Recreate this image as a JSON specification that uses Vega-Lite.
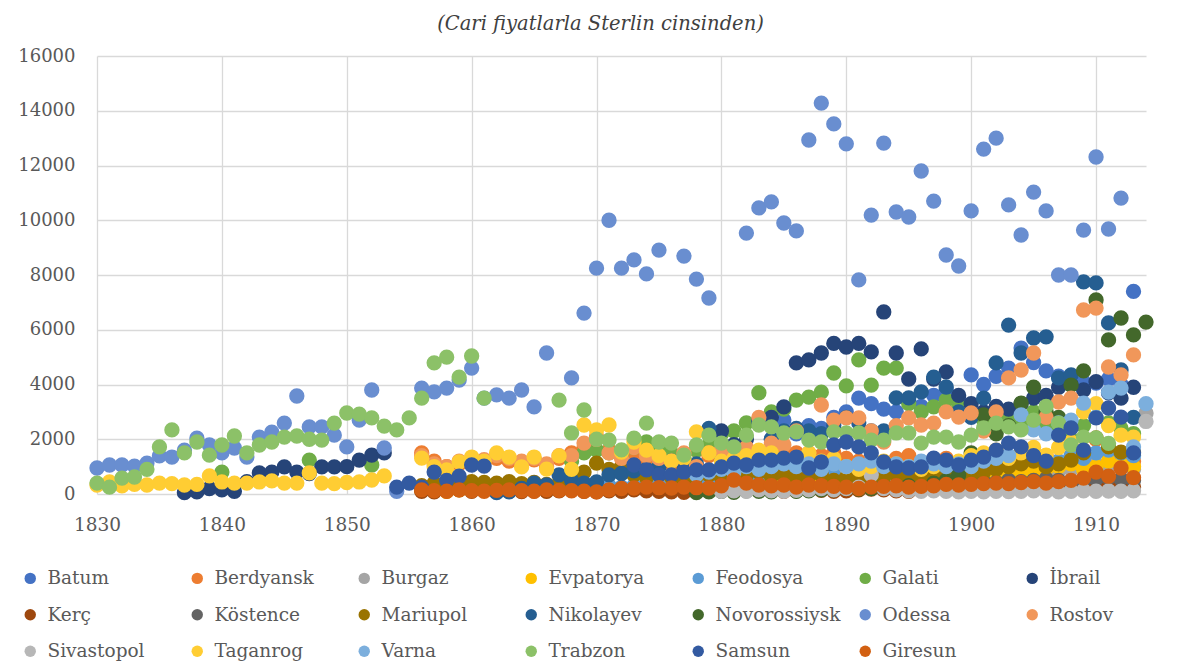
{
"$schema": "https://vega.github.io/schema/vega-lite/v6.json",
"width": 1049, "height": 438,
"autosize": {"type": "none"},
"padding": {"left": 97, "top": 56, "right": 39, "bottom": 174},
"background": "white",
"title": {"text": "(Cari fiyatlarla Sterlin cinsinden)", "font": "DejaVu Serif", "fontStyle": "italic", "fontWeight": "normal", "fontSize": 19.5, "color": "#404040", "anchor": "middle", "dx": -21, "offset": 13},
"datasets": {
"main": [
{"port":"Batum","year":1880,"value":600},{"port":"Batum","year":1881,"value":800},{"port":"Batum","year":1882,"value":1100},{"port":"Batum","year":1883,"value":1500},{"port":"Batum","year":1884,"value":2000},{"port":"Batum","year":1885,"value":2700},{"port":"Batum","year":1886,"value":2200},{"port":"Batum","year":1887,"value":2500},{"port":"Batum","year":1888,"value":2400},{"port":"Batum","year":1889,"value":2800},{"port":"Batum","year":1890,"value":3000},{"port":"Batum","year":1891,"value":3500},{"port":"Batum","year":1892,"value":3300},{"port":"Batum","year":1893,"value":3100},{"port":"Batum","year":1894,"value":3000},{"port":"Batum","year":1895,"value":3400},{"port":"Batum","year":1896,"value":3200},{"port":"Batum","year":1897,"value":3600},{"port":"Batum","year":1898,"value":3800},{"port":"Batum","year":1899,"value":3500},{"port":"Batum","year":1900,"value":4350},{"port":"Batum","year":1901,"value":4000},{"port":"Batum","year":1902,"value":4300},{"port":"Batum","year":1903,"value":4600},{"port":"Batum","year":1904,"value":5330},{"port":"Batum","year":1905,"value":4800},{"port":"Batum","year":1906,"value":4500},{"port":"Batum","year":1907,"value":4300},{"port":"Batum","year":1908,"value":4100},{"port":"Batum","year":1909,"value":4090},{"port":"Batum","year":1910,"value":4050},{"port":"Batum","year":1911,"value":4200},{"port":"Batum","year":1912,"value":4000},{"port":"Batum","year":1913,"value":7400},
{"port":"Berdyansk","year":1856,"value":1500},{"port":"Berdyansk","year":1857,"value":1200},{"port":"Berdyansk","year":1858,"value":1000},{"port":"Berdyansk","year":1859,"value":1100},{"port":"Berdyansk","year":1860,"value":1250},{"port":"Berdyansk","year":1861,"value":1150},{"port":"Berdyansk","year":1862,"value":1300},{"port":"Berdyansk","year":1863,"value":1200},{"port":"Berdyansk","year":1864,"value":1100},{"port":"Berdyansk","year":1865,"value":1250},{"port":"Berdyansk","year":1866,"value":1000},{"port":"Berdyansk","year":1867,"value":1300},{"port":"Berdyansk","year":1868,"value":1500},{"port":"Berdyansk","year":1869,"value":1700},{"port":"Berdyansk","year":1870,"value":2100},{"port":"Berdyansk","year":1871,"value":1600},{"port":"Berdyansk","year":1872,"value":1400},{"port":"Berdyansk","year":1873,"value":1500},{"port":"Berdyansk","year":1874,"value":1300},{"port":"Berdyansk","year":1875,"value":1500},{"port":"Berdyansk","year":1876,"value":1100},{"port":"Berdyansk","year":1877,"value":1200},{"port":"Berdyansk","year":1878,"value":1600},{"port":"Berdyansk","year":1879,"value":1400},{"port":"Berdyansk","year":1880,"value":1500},{"port":"Berdyansk","year":1881,"value":1700},{"port":"Berdyansk","year":1882,"value":1500},{"port":"Berdyansk","year":1883,"value":1300},{"port":"Berdyansk","year":1884,"value":1400},{"port":"Berdyansk","year":1885,"value":1600},{"port":"Berdyansk","year":1886,"value":1500},{"port":"Berdyansk","year":1887,"value":1200},{"port":"Berdyansk","year":1888,"value":1400},{"port":"Berdyansk","year":1889,"value":1500},{"port":"Berdyansk","year":1890,"value":1300},{"port":"Berdyansk","year":1891,"value":1200},{"port":"Berdyansk","year":1892,"value":1100},{"port":"Berdyansk","year":1893,"value":1000},{"port":"Berdyansk","year":1894,"value":1300},{"port":"Berdyansk","year":1895,"value":1400},{"port":"Berdyansk","year":1896,"value":1100},{"port":"Berdyansk","year":1897,"value":1200},{"port":"Berdyansk","year":1898,"value":1300},{"port":"Berdyansk","year":1899,"value":1100},{"port":"Berdyansk","year":1900,"value":1000},{"port":"Berdyansk","year":1901,"value":900},{"port":"Berdyansk","year":1902,"value":1100},{"port":"Berdyansk","year":1903,"value":1200},{"port":"Berdyansk","year":1904,"value":1300},{"port":"Berdyansk","year":1905,"value":1500},{"port":"Berdyansk","year":1906,"value":1400},{"port":"Berdyansk","year":1907,"value":1200},{"port":"Berdyansk","year":1908,"value":1300},{"port":"Berdyansk","year":1909,"value":1600},{"port":"Berdyansk","year":1910,"value":2000},{"port":"Berdyansk","year":1911,"value":1500},{"port":"Berdyansk","year":1912,"value":1300},{"port":"Berdyansk","year":1913,"value":1200},
{"port":"Burgaz","year":1880,"value":300},{"port":"Burgaz","year":1881,"value":350},{"port":"Burgaz","year":1882,"value":400},{"port":"Burgaz","year":1883,"value":450},{"port":"Burgaz","year":1884,"value":500},{"port":"Burgaz","year":1885,"value":400},{"port":"Burgaz","year":1886,"value":600},{"port":"Burgaz","year":1887,"value":500},{"port":"Burgaz","year":1888,"value":500},{"port":"Burgaz","year":1889,"value":600},{"port":"Burgaz","year":1890,"value":700},{"port":"Burgaz","year":1891,"value":650},{"port":"Burgaz","year":1892,"value":800},{"port":"Burgaz","year":1893,"value":700},{"port":"Burgaz","year":1894,"value":600},{"port":"Burgaz","year":1895,"value":650},{"port":"Burgaz","year":1896,"value":700},{"port":"Burgaz","year":1897,"value":750},{"port":"Burgaz","year":1898,"value":900},{"port":"Burgaz","year":1899,"value":800},{"port":"Burgaz","year":1900,"value":800},{"port":"Burgaz","year":1901,"value":850},{"port":"Burgaz","year":1902,"value":900},{"port":"Burgaz","year":1903,"value":950},{"port":"Burgaz","year":1904,"value":1000},{"port":"Burgaz","year":1905,"value":900},{"port":"Burgaz","year":1906,"value":800},{"port":"Burgaz","year":1907,"value":850},{"port":"Burgaz","year":1908,"value":900},{"port":"Burgaz","year":1909,"value":1000},{"port":"Burgaz","year":1910,"value":1100},{"port":"Burgaz","year":1911,"value":1000},{"port":"Burgaz","year":1912,"value":1000},{"port":"Burgaz","year":1913,"value":900},{"port":"Burgaz","year":1914,"value":2950},
{"port":"Evpatorya","year":1856,"value":150},{"port":"Evpatorya","year":1857,"value":120},{"port":"Evpatorya","year":1858,"value":100},{"port":"Evpatorya","year":1859,"value":150},{"port":"Evpatorya","year":1860,"value":200},{"port":"Evpatorya","year":1861,"value":180},{"port":"Evpatorya","year":1862,"value":150},{"port":"Evpatorya","year":1863,"value":200},{"port":"Evpatorya","year":1864,"value":150},{"port":"Evpatorya","year":1865,"value":180},{"port":"Evpatorya","year":1866,"value":120},{"port":"Evpatorya","year":1867,"value":150},{"port":"Evpatorya","year":1868,"value":200},{"port":"Evpatorya","year":1869,"value":250},{"port":"Evpatorya","year":1870,"value":300},{"port":"Evpatorya","year":1871,"value":250},{"port":"Evpatorya","year":1872,"value":200},{"port":"Evpatorya","year":1873,"value":250},{"port":"Evpatorya","year":1874,"value":300},{"port":"Evpatorya","year":1875,"value":250},{"port":"Evpatorya","year":1876,"value":200},{"port":"Evpatorya","year":1877,"value":150},{"port":"Evpatorya","year":1878,"value":250},{"port":"Evpatorya","year":1879,"value":300},{"port":"Evpatorya","year":1880,"value":300},{"port":"Evpatorya","year":1881,"value":350},{"port":"Evpatorya","year":1882,"value":400},{"port":"Evpatorya","year":1883,"value":300},{"port":"Evpatorya","year":1884,"value":350},{"port":"Evpatorya","year":1885,"value":300},{"port":"Evpatorya","year":1886,"value":250},{"port":"Evpatorya","year":1887,"value":300},{"port":"Evpatorya","year":1888,"value":350},{"port":"Evpatorya","year":1889,"value":300},{"port":"Evpatorya","year":1890,"value":350},{"port":"Evpatorya","year":1891,"value":300},{"port":"Evpatorya","year":1892,"value":400},{"port":"Evpatorya","year":1893,"value":350},{"port":"Evpatorya","year":1894,"value":300},{"port":"Evpatorya","year":1895,"value":350},{"port":"Evpatorya","year":1896,"value":400},{"port":"Evpatorya","year":1897,"value":450},{"port":"Evpatorya","year":1898,"value":500},{"port":"Evpatorya","year":1899,"value":450},{"port":"Evpatorya","year":1900,"value":500},{"port":"Evpatorya","year":1901,"value":600},{"port":"Evpatorya","year":1902,"value":700},{"port":"Evpatorya","year":1903,"value":650},{"port":"Evpatorya","year":1904,"value":700},{"port":"Evpatorya","year":1905,"value":800},{"port":"Evpatorya","year":1906,"value":900},{"port":"Evpatorya","year":1907,"value":1000},{"port":"Evpatorya","year":1908,"value":1100},{"port":"Evpatorya","year":1909,"value":900},{"port":"Evpatorya","year":1910,"value":1000},{"port":"Evpatorya","year":1911,"value":1200},{"port":"Evpatorya","year":1912,"value":1100},{"port":"Evpatorya","year":1913,"value":1000},
{"port":"Feodosya","year":1868,"value":180},{"port":"Feodosya","year":1869,"value":200},{"port":"Feodosya","year":1870,"value":250},{"port":"Feodosya","year":1871,"value":300},{"port":"Feodosya","year":1872,"value":250},{"port":"Feodosya","year":1873,"value":300},{"port":"Feodosya","year":1874,"value":350},{"port":"Feodosya","year":1875,"value":300},{"port":"Feodosya","year":1876,"value":250},{"port":"Feodosya","year":1877,"value":300},{"port":"Feodosya","year":1878,"value":400},{"port":"Feodosya","year":1879,"value":450},{"port":"Feodosya","year":1880,"value":600},{"port":"Feodosya","year":1881,"value":700},{"port":"Feodosya","year":1882,"value":800},{"port":"Feodosya","year":1883,"value":700},{"port":"Feodosya","year":1884,"value":800},{"port":"Feodosya","year":1885,"value":900},{"port":"Feodosya","year":1886,"value":800},{"port":"Feodosya","year":1887,"value":900},{"port":"Feodosya","year":1888,"value":1000},{"port":"Feodosya","year":1889,"value":900},{"port":"Feodosya","year":1890,"value":1000},{"port":"Feodosya","year":1891,"value":900},{"port":"Feodosya","year":1892,"value":1000},{"port":"Feodosya","year":1893,"value":1100},{"port":"Feodosya","year":1894,"value":1000},{"port":"Feodosya","year":1895,"value":900},{"port":"Feodosya","year":1896,"value":1000},{"port":"Feodosya","year":1897,"value":1100},{"port":"Feodosya","year":1898,"value":1200},{"port":"Feodosya","year":1899,"value":1000},{"port":"Feodosya","year":1900,"value":1100},{"port":"Feodosya","year":1901,"value":1000},{"port":"Feodosya","year":1902,"value":1200},{"port":"Feodosya","year":1903,"value":1300},{"port":"Feodosya","year":1904,"value":1200},{"port":"Feodosya","year":1905,"value":1400},{"port":"Feodosya","year":1906,"value":1300},{"port":"Feodosya","year":1907,"value":1200},{"port":"Feodosya","year":1908,"value":1400},{"port":"Feodosya","year":1909,"value":1300},{"port":"Feodosya","year":1910,"value":1500},{"port":"Feodosya","year":1911,"value":1600},{"port":"Feodosya","year":1912,"value":1500},{"port":"Feodosya","year":1913,"value":1400},
{"port":"Galati","year":1840,"value":800},{"port":"Galati","year":1847,"value":1240},{"port":"Galati","year":1852,"value":1060},
{"port":"Galati","year":1868,"value":1200},{"port":"Galati","year":1869,"value":1500},{"port":"Galati","year":1870,"value":1600},{"port":"Galati","year":1871,"value":1500},{"port":"Galati","year":1872,"value":1400},{"port":"Galati","year":1873,"value":1700},{"port":"Galati","year":1874,"value":1900},{"port":"Galati","year":1875,"value":1600},{"port":"Galati","year":1876,"value":1500},{"port":"Galati","year":1877,"value":1300},{"port":"Galati","year":1878,"value":1600},{"port":"Galati","year":1879,"value":1800},{"port":"Galati","year":1880,"value":2200},{"port":"Galati","year":1881,"value":2300},{"port":"Galati","year":1882,"value":2600},{"port":"Galati","year":1883,"value":3700},{"port":"Galati","year":1884,"value":3000},{"port":"Galati","year":1885,"value":3100},{"port":"Galati","year":1886,"value":3430},{"port":"Galati","year":1887,"value":3540},{"port":"Galati","year":1888,"value":3720},{"port":"Galati","year":1889,"value":4420},{"port":"Galati","year":1890,"value":3950},{"port":"Galati","year":1891,"value":4900},{"port":"Galati","year":1892,"value":3980},{"port":"Galati","year":1893,"value":4600},{"port":"Galati","year":1894,"value":4600},{"port":"Galati","year":1895,"value":3300},{"port":"Galati","year":1896,"value":3000},{"port":"Galati","year":1897,"value":3180},{"port":"Galati","year":1898,"value":3430},{"port":"Galati","year":1899,"value":3200},{"port":"Galati","year":1900,"value":2900},{"port":"Galati","year":1901,"value":2700},{"port":"Galati","year":1902,"value":3000},{"port":"Galati","year":1903,"value":2800},{"port":"Galati","year":1904,"value":2600},{"port":"Galati","year":1905,"value":3000},{"port":"Galati","year":1906,"value":2500},{"port":"Galati","year":1907,"value":2300},{"port":"Galati","year":1908,"value":2000},{"port":"Galati","year":1909,"value":2500},{"port":"Galati","year":1910,"value":2800},{"port":"Galati","year":1911,"value":2600},{"port":"Galati","year":1912,"value":2400},{"port":"Galati","year":1913,"value":2200},
{"port":"İbrail","year":1837,"value":50},{"port":"İbrail","year":1838,"value":80},{"port":"İbrail","year":1839,"value":200},{"port":"İbrail","year":1840,"value":150},{"port":"İbrail","year":1841,"value":100},{"port":"İbrail","year":1842,"value":450},{"port":"İbrail","year":1843,"value":770},{"port":"İbrail","year":1844,"value":800},{"port":"İbrail","year":1845,"value":990},{"port":"İbrail","year":1846,"value":800},{"port":"İbrail","year":1847,"value":750},{"port":"İbrail","year":1848,"value":990},{"port":"İbrail","year":1849,"value":990},{"port":"İbrail","year":1850,"value":1000},{"port":"İbrail","year":1851,"value":1240},{"port":"İbrail","year":1852,"value":1420},{"port":"İbrail","year":1853,"value":1500},
{"port":"İbrail","year":1880,"value":2300},{"port":"İbrail","year":1881,"value":1800},{"port":"İbrail","year":1882,"value":2000},{"port":"İbrail","year":1883,"value":2600},{"port":"İbrail","year":1884,"value":2800},{"port":"İbrail","year":1885,"value":3180},{"port":"İbrail","year":1886,"value":4790},{"port":"İbrail","year":1887,"value":4900},{"port":"İbrail","year":1888,"value":5150},{"port":"İbrail","year":1889,"value":5500},{"port":"İbrail","year":1890,"value":5370},{"port":"İbrail","year":1891,"value":5500},{"port":"İbrail","year":1892,"value":5190},{"port":"İbrail","year":1893,"value":6650},{"port":"İbrail","year":1894,"value":5150},{"port":"İbrail","year":1895,"value":4200},{"port":"İbrail","year":1896,"value":5300},{"port":"İbrail","year":1897,"value":4200},{"port":"İbrail","year":1898,"value":4460},{"port":"İbrail","year":1899,"value":3600},{"port":"İbrail","year":1900,"value":3300},{"port":"İbrail","year":1901,"value":3000},{"port":"İbrail","year":1902,"value":3200},{"port":"İbrail","year":1903,"value":3100},{"port":"İbrail","year":1904,"value":3300},{"port":"İbrail","year":1905,"value":3500},{"port":"İbrail","year":1906,"value":3600},{"port":"İbrail","year":1907,"value":3900},{"port":"İbrail","year":1908,"value":4000},{"port":"İbrail","year":1909,"value":3800},{"port":"İbrail","year":1910,"value":4100},{"port":"İbrail","year":1911,"value":3700},{"port":"İbrail","year":1912,"value":3500},{"port":"İbrail","year":1913,"value":3900},
{"port":"Kerç","year":1856,"value":100},{"port":"Kerç","year":1857,"value":80},{"port":"Kerç","year":1858,"value":120},{"port":"Kerç","year":1859,"value":150},{"port":"Kerç","year":1860,"value":100},{"port":"Kerç","year":1861,"value":130},{"port":"Kerç","year":1862,"value":120},{"port":"Kerç","year":1863,"value":100},{"port":"Kerç","year":1864,"value":90},{"port":"Kerç","year":1865,"value":110},{"port":"Kerç","year":1866,"value":100},{"port":"Kerç","year":1867,"value":120},{"port":"Kerç","year":1868,"value":150},{"port":"Kerç","year":1869,"value":100},{"port":"Kerç","year":1870,"value":80},{"port":"Kerç","year":1871,"value":120},{"port":"Kerç","year":1872,"value":100},{"port":"Kerç","year":1873,"value":150},{"port":"Kerç","year":1874,"value":120},{"port":"Kerç","year":1875,"value":100},{"port":"Kerç","year":1876,"value":80},{"port":"Kerç","year":1877,"value":60},{"port":"Kerç","year":1878,"value":100},{"port":"Kerç","year":1879,"value":120},{"port":"Kerç","year":1880,"value":150},{"port":"Kerç","year":1881,"value":180},{"port":"Kerç","year":1882,"value":200},{"port":"Kerç","year":1883,"value":150},{"port":"Kerç","year":1884,"value":120},{"port":"Kerç","year":1885,"value":100},{"port":"Kerç","year":1886,"value":120},{"port":"Kerç","year":1887,"value":150},{"port":"Kerç","year":1888,"value":130},{"port":"Kerç","year":1889,"value":100},{"port":"Kerç","year":1890,"value":120},{"port":"Kerç","year":1891,"value":150},{"port":"Kerç","year":1892,"value":180},{"port":"Kerç","year":1893,"value":150},{"port":"Kerç","year":1894,"value":120},{"port":"Kerç","year":1895,"value":100},{"port":"Kerç","year":1896,"value":150},{"port":"Kerç","year":1897,"value":200},{"port":"Kerç","year":1898,"value":180},{"port":"Kerç","year":1899,"value":150},{"port":"Kerç","year":1900,"value":200},{"port":"Kerç","year":1901,"value":250},{"port":"Kerç","year":1902,"value":220},{"port":"Kerç","year":1903,"value":200},{"port":"Kerç","year":1904,"value":250},{"port":"Kerç","year":1905,"value":300},{"port":"Kerç","year":1906,"value":250},{"port":"Kerç","year":1907,"value":200},{"port":"Kerç","year":1908,"value":250},{"port":"Kerç","year":1909,"value":300},{"port":"Kerç","year":1910,"value":350},{"port":"Kerç","year":1911,"value":300},{"port":"Kerç","year":1912,"value":280},{"port":"Kerç","year":1913,"value":250},
{"port":"Köstence","year":1878,"value":100},{"port":"Köstence","year":1879,"value":120},{"port":"Köstence","year":1880,"value":150},{"port":"Köstence","year":1881,"value":130},{"port":"Köstence","year":1882,"value":200},{"port":"Köstence","year":1883,"value":180},{"port":"Köstence","year":1884,"value":200},{"port":"Köstence","year":1885,"value":250},{"port":"Köstence","year":1886,"value":220},{"port":"Köstence","year":1887,"value":200},{"port":"Köstence","year":1888,"value":250},{"port":"Köstence","year":1889,"value":300},{"port":"Köstence","year":1890,"value":280},{"port":"Köstence","year":1891,"value":250},{"port":"Köstence","year":1892,"value":300},{"port":"Köstence","year":1893,"value":320},{"port":"Köstence","year":1894,"value":300},{"port":"Köstence","year":1895,"value":350},{"port":"Köstence","year":1896,"value":300},{"port":"Köstence","year":1897,"value":350},{"port":"Köstence","year":1898,"value":400},{"port":"Köstence","year":1899,"value":380},{"port":"Köstence","year":1900,"value":400},{"port":"Köstence","year":1901,"value":450},{"port":"Köstence","year":1902,"value":420},{"port":"Köstence","year":1903,"value":500},{"port":"Köstence","year":1904,"value":450},{"port":"Köstence","year":1905,"value":500},{"port":"Köstence","year":1906,"value":550},{"port":"Köstence","year":1907,"value":500},{"port":"Köstence","year":1908,"value":450},{"port":"Köstence","year":1909,"value":500},{"port":"Köstence","year":1910,"value":550},{"port":"Köstence","year":1911,"value":600},{"port":"Köstence","year":1912,"value":550},{"port":"Köstence","year":1913,"value":500},
{"port":"Mariupol","year":1856,"value":300},{"port":"Mariupol","year":1857,"value":400},{"port":"Mariupol","year":1858,"value":350},{"port":"Mariupol","year":1859,"value":400},{"port":"Mariupol","year":1860,"value":450},{"port":"Mariupol","year":1861,"value":420},{"port":"Mariupol","year":1862,"value":400},{"port":"Mariupol","year":1863,"value":450},{"port":"Mariupol","year":1864,"value":380},{"port":"Mariupol","year":1865,"value":420},{"port":"Mariupol","year":1866,"value":350},{"port":"Mariupol","year":1867,"value":400},{"port":"Mariupol","year":1868,"value":600},{"port":"Mariupol","year":1869,"value":800},{"port":"Mariupol","year":1870,"value":1130},{"port":"Mariupol","year":1871,"value":900},{"port":"Mariupol","year":1872,"value":1000},{"port":"Mariupol","year":1873,"value":700},{"port":"Mariupol","year":1874,"value":600},{"port":"Mariupol","year":1875,"value":700},{"port":"Mariupol","year":1876,"value":600},{"port":"Mariupol","year":1877,"value":500},{"port":"Mariupol","year":1878,"value":650},{"port":"Mariupol","year":1879,"value":700},{"port":"Mariupol","year":1880,"value":600},{"port":"Mariupol","year":1881,"value":550},{"port":"Mariupol","year":1882,"value":700},{"port":"Mariupol","year":1883,"value":800},{"port":"Mariupol","year":1884,"value":650},{"port":"Mariupol","year":1885,"value":700},{"port":"Mariupol","year":1886,"value":600},{"port":"Mariupol","year":1887,"value":650},{"port":"Mariupol","year":1888,"value":700},{"port":"Mariupol","year":1889,"value":500},{"port":"Mariupol","year":1890,"value":600},{"port":"Mariupol","year":1891,"value":550},{"port":"Mariupol","year":1892,"value":600},{"port":"Mariupol","year":1893,"value":650},{"port":"Mariupol","year":1894,"value":700},{"port":"Mariupol","year":1895,"value":600},{"port":"Mariupol","year":1896,"value":650},{"port":"Mariupol","year":1897,"value":700},{"port":"Mariupol","year":1898,"value":800},{"port":"Mariupol","year":1899,"value":750},{"port":"Mariupol","year":1900,"value":700},{"port":"Mariupol","year":1901,"value":800},{"port":"Mariupol","year":1902,"value":900},{"port":"Mariupol","year":1903,"value":1000},{"port":"Mariupol","year":1904,"value":1100},{"port":"Mariupol","year":1905,"value":1200},{"port":"Mariupol","year":1906,"value":1000},{"port":"Mariupol","year":1907,"value":1100},{"port":"Mariupol","year":1908,"value":1240},{"port":"Mariupol","year":1909,"value":1500},{"port":"Mariupol","year":1910,"value":2050},{"port":"Mariupol","year":1911,"value":1720},{"port":"Mariupol","year":1912,"value":1530},{"port":"Mariupol","year":1913,"value":1530},
{"port":"Nikolayev","year":1862,"value":50},{"port":"Nikolayev","year":1863,"value":80},{"port":"Nikolayev","year":1864,"value":200},{"port":"Nikolayev","year":1865,"value":400},{"port":"Nikolayev","year":1866,"value":330},{"port":"Nikolayev","year":1867,"value":700},{"port":"Nikolayev","year":1868,"value":500},{"port":"Nikolayev","year":1869,"value":400},{"port":"Nikolayev","year":1870,"value":440},{"port":"Nikolayev","year":1871,"value":700},{"port":"Nikolayev","year":1872,"value":750},{"port":"Nikolayev","year":1873,"value":850},{"port":"Nikolayev","year":1874,"value":900},{"port":"Nikolayev","year":1875,"value":1000},{"port":"Nikolayev","year":1876,"value":1200},{"port":"Nikolayev","year":1877,"value":900},{"port":"Nikolayev","year":1878,"value":1100},{"port":"Nikolayev","year":1879,"value":2400},{"port":"Nikolayev","year":1880,"value":1400},{"port":"Nikolayev","year":1881,"value":1300},{"port":"Nikolayev","year":1882,"value":1600},{"port":"Nikolayev","year":1883,"value":2700},{"port":"Nikolayev","year":1884,"value":2000},{"port":"Nikolayev","year":1885,"value":2300},{"port":"Nikolayev","year":1886,"value":2400},{"port":"Nikolayev","year":1887,"value":2300},{"port":"Nikolayev","year":1888,"value":2200},{"port":"Nikolayev","year":1889,"value":2500},{"port":"Nikolayev","year":1890,"value":2800},{"port":"Nikolayev","year":1891,"value":2600},{"port":"Nikolayev","year":1892,"value":2300},{"port":"Nikolayev","year":1893,"value":2300},{"port":"Nikolayev","year":1894,"value":3510},{"port":"Nikolayev","year":1895,"value":3510},{"port":"Nikolayev","year":1896,"value":3730},{"port":"Nikolayev","year":1897,"value":4270},{"port":"Nikolayev","year":1898,"value":3910},{"port":"Nikolayev","year":1899,"value":3000},{"port":"Nikolayev","year":1900,"value":2800},{"port":"Nikolayev","year":1901,"value":3500},{"port":"Nikolayev","year":1902,"value":4790},{"port":"Nikolayev","year":1903,"value":6170},{"port":"Nikolayev","year":1904,"value":5150},{"port":"Nikolayev","year":1905,"value":5700},{"port":"Nikolayev","year":1906,"value":5740},{"port":"Nikolayev","year":1907,"value":4240},{"port":"Nikolayev","year":1908,"value":4350},{"port":"Nikolayev","year":1909,"value":7750},{"port":"Nikolayev","year":1910,"value":7710},{"port":"Nikolayev","year":1911,"value":6250},{"port":"Nikolayev","year":1912,"value":4530},{"port":"Nikolayev","year":1913,"value":2800},
{"port":"Novorossiysk","year":1878,"value":50},{"port":"Novorossiysk","year":1879,"value":80},{"port":"Novorossiysk","year":1880,"value":100},{"port":"Novorossiysk","year":1881,"value":60},{"port":"Novorossiysk","year":1882,"value":120},{"port":"Novorossiysk","year":1883,"value":100},{"port":"Novorossiysk","year":1884,"value":80},{"port":"Novorossiysk","year":1885,"value":150},{"port":"Novorossiysk","year":1886,"value":100},{"port":"Novorossiysk","year":1887,"value":120},{"port":"Novorossiysk","year":1888,"value":150},{"port":"Novorossiysk","year":1889,"value":150},{"port":"Novorossiysk","year":1890,"value":200},{"port":"Novorossiysk","year":1891,"value":180},{"port":"Novorossiysk","year":1892,"value":200},{"port":"Novorossiysk","year":1893,"value":250},{"port":"Novorossiysk","year":1894,"value":200},{"port":"Novorossiysk","year":1895,"value":300},{"port":"Novorossiysk","year":1896,"value":250},{"port":"Novorossiysk","year":1897,"value":400},{"port":"Novorossiysk","year":1898,"value":500},{"port":"Novorossiysk","year":1899,"value":700},{"port":"Novorossiysk","year":1900,"value":1500},{"port":"Novorossiysk","year":1901,"value":2890},{"port":"Novorossiysk","year":1902,"value":2200},{"port":"Novorossiysk","year":1903,"value":2500},{"port":"Novorossiysk","year":1904,"value":3320},{"port":"Novorossiysk","year":1905,"value":3900},{"port":"Novorossiysk","year":1906,"value":3000},{"port":"Novorossiysk","year":1907,"value":2800},{"port":"Novorossiysk","year":1908,"value":3980},{"port":"Novorossiysk","year":1909,"value":4500},{"port":"Novorossiysk","year":1910,"value":7090},{"port":"Novorossiysk","year":1911,"value":5630},{"port":"Novorossiysk","year":1912,"value":6430},{"port":"Novorossiysk","year":1913,"value":5810},{"port":"Novorossiysk","year":1914,"value":6280},
{"port":"Odessa","year":1830,"value":950},{"port":"Odessa","year":1831,"value":1060},{"port":"Odessa","year":1832,"value":1060},{"port":"Odessa","year":1833,"value":1020},{"port":"Odessa","year":1834,"value":1130},{"port":"Odessa","year":1835,"value":1390},{"port":"Odessa","year":1836,"value":1350},{"port":"Odessa","year":1837,"value":1600},{"port":"Odessa","year":1838,"value":2040},{"port":"Odessa","year":1839,"value":1790},{"port":"Odessa","year":1840,"value":1500},{"port":"Odessa","year":1841,"value":1680},{"port":"Odessa","year":1842,"value":1350},{"port":"Odessa","year":1843,"value":2080},{"port":"Odessa","year":1844,"value":2260},{"port":"Odessa","year":1845,"value":2590},{"port":"Odessa","year":1846,"value":3580},{"port":"Odessa","year":1847,"value":2450},{"port":"Odessa","year":1848,"value":2450},{"port":"Odessa","year":1849,"value":2150},{"port":"Odessa","year":1850,"value":1720},{"port":"Odessa","year":1851,"value":2700},{"port":"Odessa","year":1852,"value":3800},{"port":"Odessa","year":1853,"value":1680},{"port":"Odessa","year":1854,"value":100},{"port":"Odessa","year":1856,"value":3870},{"port":"Odessa","year":1857,"value":3730},{"port":"Odessa","year":1858,"value":3870},{"port":"Odessa","year":1859,"value":4160},{"port":"Odessa","year":1860,"value":4600},{"port":"Odessa","year":1861,"value":3500},{"port":"Odessa","year":1862,"value":3620},{"port":"Odessa","year":1863,"value":3500},{"port":"Odessa","year":1864,"value":3800},{"port":"Odessa","year":1865,"value":3180},{"port":"Odessa","year":1866,"value":5150},{"port":"Odessa","year":1868,"value":4240},{"port":"Odessa","year":1869,"value":6610},{"port":"Odessa","year":1870,"value":8250},{"port":"Odessa","year":1871,"value":10000},{"port":"Odessa","year":1872,"value":8250},{"port":"Odessa","year":1873,"value":8550},{"port":"Odessa","year":1874,"value":8040},{"port":"Odessa","year":1875,"value":8910},{"port":"Odessa","year":1877,"value":8690},{"port":"Odessa","year":1878,"value":7850},{"port":"Odessa","year":1879,"value":7160},{"port":"Odessa","year":1882,"value":9530},{"port":"Odessa","year":1883,"value":10450},{"port":"Odessa","year":1884,"value":10670},{"port":"Odessa","year":1885,"value":9900},{"port":"Odessa","year":1886,"value":9610},{"port":"Odessa","year":1887,"value":12930},{"port":"Odessa","year":1888,"value":14280},{"port":"Odessa","year":1889,"value":13520},{"port":"Odessa","year":1890,"value":12790},{"port":"Odessa","year":1891,"value":7820},{"port":"Odessa","year":1892,"value":10190},{"port":"Odessa","year":1893,"value":12820},{"port":"Odessa","year":1894,"value":10300},{"port":"Odessa","year":1895,"value":10120},{"port":"Odessa","year":1896,"value":11800},{"port":"Odessa","year":1897,"value":10700},{"port":"Odessa","year":1898,"value":8730},{"port":"Odessa","year":1899,"value":8330},{"port":"Odessa","year":1900,"value":10340},{"port":"Odessa","year":1901,"value":12600},{"port":"Odessa","year":1902,"value":13000},{"port":"Odessa","year":1903,"value":10560},{"port":"Odessa","year":1904,"value":9460},{"port":"Odessa","year":1905,"value":11030},{"port":"Odessa","year":1906,"value":10340},{"port":"Odessa","year":1907,"value":8000},{"port":"Odessa","year":1908,"value":8000},{"port":"Odessa","year":1909,"value":9640},{"port":"Odessa","year":1910,"value":12310},{"port":"Odessa","year":1911,"value":9680},{"port":"Odessa","year":1912,"value":10810},
{"port":"Rostov","year":1856,"value":1400},{"port":"Rostov","year":1857,"value":1100},{"port":"Rostov","year":1858,"value":1000},{"port":"Rostov","year":1859,"value":1200},{"port":"Rostov","year":1860,"value":1300},{"port":"Rostov","year":1861,"value":1250},{"port":"Rostov","year":1862,"value":1400},{"port":"Rostov","year":1863,"value":1300},{"port":"Rostov","year":1864,"value":1200},{"port":"Rostov","year":1865,"value":1300},{"port":"Rostov","year":1866,"value":1100},{"port":"Rostov","year":1867,"value":1400},{"port":"Rostov","year":1868,"value":1400},{"port":"Rostov","year":1869,"value":1860},{"port":"Rostov","year":1870,"value":2000},{"port":"Rostov","year":1871,"value":1500},{"port":"Rostov","year":1872,"value":1300},{"port":"Rostov","year":1873,"value":1700},{"port":"Rostov","year":1874,"value":1400},{"port":"Rostov","year":1875,"value":1300},{"port":"Rostov","year":1876,"value":1200},{"port":"Rostov","year":1877,"value":1500},{"port":"Rostov","year":1878,"value":1000},{"port":"Rostov","year":1879,"value":1500},{"port":"Rostov","year":1880,"value":1600},{"port":"Rostov","year":1881,"value":1400},{"port":"Rostov","year":1882,"value":1700},{"port":"Rostov","year":1883,"value":2800},{"port":"Rostov","year":1884,"value":1860},{"port":"Rostov","year":1885,"value":1790},{"port":"Rostov","year":1886,"value":2300},{"port":"Rostov","year":1887,"value":1500},{"port":"Rostov","year":1888,"value":3250},{"port":"Rostov","year":1889,"value":2700},{"port":"Rostov","year":1890,"value":2780},{"port":"Rostov","year":1891,"value":2780},{"port":"Rostov","year":1892,"value":2300},{"port":"Rostov","year":1893,"value":1900},{"port":"Rostov","year":1894,"value":2500},{"port":"Rostov","year":1895,"value":2780},{"port":"Rostov","year":1896,"value":2520},{"port":"Rostov","year":1897,"value":2590},{"port":"Rostov","year":1898,"value":3000},{"port":"Rostov","year":1899,"value":2810},{"port":"Rostov","year":1900,"value":2960},{"port":"Rostov","year":1901,"value":2300},{"port":"Rostov","year":1902,"value":3000},{"port":"Rostov","year":1903,"value":4240},{"port":"Rostov","year":1904,"value":4530},{"port":"Rostov","year":1905,"value":5150},{"port":"Rostov","year":1906,"value":2800},{"port":"Rostov","year":1907,"value":3360},{"port":"Rostov","year":1908,"value":3500},{"port":"Rostov","year":1909,"value":6720},{"port":"Rostov","year":1910,"value":6790},{"port":"Rostov","year":1911,"value":4640},{"port":"Rostov","year":1912,"value":4350},{"port":"Rostov","year":1913,"value":5080},
{"port":"Sivastopol","year":1880,"value":100},{"port":"Sivastopol","year":1881,"value":120},{"port":"Sivastopol","year":1882,"value":100},{"port":"Sivastopol","year":1883,"value":150},{"port":"Sivastopol","year":1884,"value":120},{"port":"Sivastopol","year":1885,"value":100},{"port":"Sivastopol","year":1886,"value":130},{"port":"Sivastopol","year":1887,"value":150},{"port":"Sivastopol","year":1888,"value":200},{"port":"Sivastopol","year":1889,"value":150},{"port":"Sivastopol","year":1890,"value":200},{"port":"Sivastopol","year":1891,"value":250},{"port":"Sivastopol","year":1892,"value":700},{"port":"Sivastopol","year":1893,"value":200},{"port":"Sivastopol","year":1894,"value":150},{"port":"Sivastopol","year":1895,"value":120},{"port":"Sivastopol","year":1896,"value":100},{"port":"Sivastopol","year":1897,"value":120},{"port":"Sivastopol","year":1898,"value":100},{"port":"Sivastopol","year":1899,"value":80},{"port":"Sivastopol","year":1900,"value":100},{"port":"Sivastopol","year":1901,"value":80},{"port":"Sivastopol","year":1902,"value":100},{"port":"Sivastopol","year":1903,"value":90},{"port":"Sivastopol","year":1904,"value":100},{"port":"Sivastopol","year":1905,"value":120},{"port":"Sivastopol","year":1906,"value":100},{"port":"Sivastopol","year":1907,"value":80},{"port":"Sivastopol","year":1908,"value":100},{"port":"Sivastopol","year":1909,"value":120},{"port":"Sivastopol","year":1910,"value":100},{"port":"Sivastopol","year":1911,"value":110},{"port":"Sivastopol","year":1912,"value":100},{"port":"Sivastopol","year":1913,"value":120},{"port":"Sivastopol","year":1914,"value":2650},
{"port":"Taganrog","year":1830,"value":330},{"port":"Taganrog","year":1831,"value":440},{"port":"Taganrog","year":1832,"value":300},{"port":"Taganrog","year":1833,"value":350},{"port":"Taganrog","year":1834,"value":330},{"port":"Taganrog","year":1835,"value":400},{"port":"Taganrog","year":1836,"value":380},{"port":"Taganrog","year":1837,"value":330},{"port":"Taganrog","year":1838,"value":350},{"port":"Taganrog","year":1839,"value":660},{"port":"Taganrog","year":1840,"value":440},{"port":"Taganrog","year":1841,"value":400},{"port":"Taganrog","year":1842,"value":400},{"port":"Taganrog","year":1843,"value":440},{"port":"Taganrog","year":1844,"value":480},{"port":"Taganrog","year":1845,"value":400},{"port":"Taganrog","year":1846,"value":400},{"port":"Taganrog","year":1847,"value":770},{"port":"Taganrog","year":1848,"value":400},{"port":"Taganrog","year":1849,"value":380},{"port":"Taganrog","year":1850,"value":420},{"port":"Taganrog","year":1851,"value":440},{"port":"Taganrog","year":1852,"value":510},{"port":"Taganrog","year":1853,"value":660},
{"port":"Taganrog","year":1856,"value":1310},{"port":"Taganrog","year":1857,"value":1000},{"port":"Taganrog","year":1858,"value":880},{"port":"Taganrog","year":1859,"value":1170},{"port":"Taganrog","year":1860,"value":1350},{"port":"Taganrog","year":1861,"value":1200},{"port":"Taganrog","year":1862,"value":1500},{"port":"Taganrog","year":1863,"value":1350},{"port":"Taganrog","year":1864,"value":990},{"port":"Taganrog","year":1865,"value":1350},{"port":"Taganrog","year":1866,"value":910},{"port":"Taganrog","year":1867,"value":1390},{"port":"Taganrog","year":1868,"value":900},{"port":"Taganrog","year":1869,"value":2520},{"port":"Taganrog","year":1870,"value":2340},{"port":"Taganrog","year":1871,"value":2520},{"port":"Taganrog","year":1872,"value":1530},{"port":"Taganrog","year":1873,"value":1900},{"port":"Taganrog","year":1874,"value":1600},{"port":"Taganrog","year":1875,"value":1400},{"port":"Taganrog","year":1876,"value":1200},{"port":"Taganrog","year":1877,"value":1300},{"port":"Taganrog","year":1878,"value":2270},{"port":"Taganrog","year":1879,"value":1500},{"port":"Taganrog","year":1880,"value":1200},{"port":"Taganrog","year":1881,"value":1300},{"port":"Taganrog","year":1882,"value":1400},{"port":"Taganrog","year":1883,"value":1600},{"port":"Taganrog","year":1884,"value":1500},{"port":"Taganrog","year":1885,"value":1300},{"port":"Taganrog","year":1886,"value":1200},{"port":"Taganrog","year":1887,"value":1500},{"port":"Taganrog","year":1888,"value":1200},{"port":"Taganrog","year":1889,"value":1300},{"port":"Taganrog","year":1890,"value":1000},{"port":"Taganrog","year":1891,"value":900},{"port":"Taganrog","year":1892,"value":1000},{"port":"Taganrog","year":1893,"value":1200},{"port":"Taganrog","year":1894,"value":1100},{"port":"Taganrog","year":1895,"value":1000},{"port":"Taganrog","year":1896,"value":900},{"port":"Taganrog","year":1897,"value":1000},{"port":"Taganrog","year":1898,"value":1100},{"port":"Taganrog","year":1899,"value":1200},{"port":"Taganrog","year":1900,"value":1400},{"port":"Taganrog","year":1901,"value":1500},{"port":"Taganrog","year":1902,"value":1600},{"port":"Taganrog","year":1903,"value":1300},{"port":"Taganrog","year":1904,"value":1500},{"port":"Taganrog","year":1905,"value":1700},{"port":"Taganrog","year":1906,"value":1420},{"port":"Taganrog","year":1907,"value":1700},{"port":"Taganrog","year":1908,"value":1900},{"port":"Taganrog","year":1909,"value":3000},{"port":"Taganrog","year":1910,"value":3300},{"port":"Taganrog","year":1911,"value":2500},{"port":"Taganrog","year":1912,"value":2150},{"port":"Taganrog","year":1913,"value":2080},
{"port":"Varna","year":1878,"value":700},{"port":"Varna","year":1879,"value":800},{"port":"Varna","year":1880,"value":900},{"port":"Varna","year":1881,"value":800},{"port":"Varna","year":1882,"value":1000},{"port":"Varna","year":1883,"value":900},{"port":"Varna","year":1884,"value":1000},{"port":"Varna","year":1885,"value":1100},{"port":"Varna","year":1886,"value":1000},{"port":"Varna","year":1887,"value":1100},{"port":"Varna","year":1888,"value":900},{"port":"Varna","year":1889,"value":1100},{"port":"Varna","year":1890,"value":1000},{"port":"Varna","year":1891,"value":1100},{"port":"Varna","year":1892,"value":1200},{"port":"Varna","year":1893,"value":1000},{"port":"Varna","year":1894,"value":1100},{"port":"Varna","year":1895,"value":1000},{"port":"Varna","year":1896,"value":1200},{"port":"Varna","year":1897,"value":1100},{"port":"Varna","year":1898,"value":1000},{"port":"Varna","year":1899,"value":1100},{"port":"Varna","year":1900,"value":1000},{"port":"Varna","year":1901,"value":1200},{"port":"Varna","year":1902,"value":1300},{"port":"Varna","year":1903,"value":1400},{"port":"Varna","year":1904,"value":2890},{"port":"Varna","year":1905,"value":2340},{"port":"Varna","year":1906,"value":2200},{"port":"Varna","year":1907,"value":2600},{"port":"Varna","year":1908,"value":2700},{"port":"Varna","year":1909,"value":3320},{"port":"Varna","year":1910,"value":2800},{"port":"Varna","year":1911,"value":3720},{"port":"Varna","year":1912,"value":3870},{"port":"Varna","year":1913,"value":1720},{"port":"Varna","year":1914,"value":3300},
{"port":"Trabzon","year":1830,"value":400},{"port":"Trabzon","year":1831,"value":250},{"port":"Trabzon","year":1832,"value":580},{"port":"Trabzon","year":1833,"value":620},{"port":"Trabzon","year":1834,"value":900},{"port":"Trabzon","year":1835,"value":1720},{"port":"Trabzon","year":1836,"value":2340},{"port":"Trabzon","year":1837,"value":1500},{"port":"Trabzon","year":1838,"value":1900},{"port":"Trabzon","year":1839,"value":1420},{"port":"Trabzon","year":1840,"value":1790},{"port":"Trabzon","year":1841,"value":2120},{"port":"Trabzon","year":1842,"value":1500},{"port":"Trabzon","year":1843,"value":1790},{"port":"Trabzon","year":1844,"value":1900},{"port":"Trabzon","year":1845,"value":2080},{"port":"Trabzon","year":1846,"value":2120},{"port":"Trabzon","year":1847,"value":2000},{"port":"Trabzon","year":1848,"value":1970},{"port":"Trabzon","year":1849,"value":2590},{"port":"Trabzon","year":1850,"value":2960},{"port":"Trabzon","year":1851,"value":2920},{"port":"Trabzon","year":1852,"value":2780},{"port":"Trabzon","year":1853,"value":2480},{"port":"Trabzon","year":1854,"value":2340},{"port":"Trabzon","year":1855,"value":2780},{"port":"Trabzon","year":1856,"value":3500},{"port":"Trabzon","year":1857,"value":4790},{"port":"Trabzon","year":1858,"value":5000},{"port":"Trabzon","year":1859,"value":4270},{"port":"Trabzon","year":1860,"value":5040},{"port":"Trabzon","year":1861,"value":3500},
{"port":"Trabzon","year":1867,"value":3430},{"port":"Trabzon","year":1868,"value":2230},{"port":"Trabzon","year":1869,"value":3070},{"port":"Trabzon","year":1870,"value":2000},{"port":"Trabzon","year":1871,"value":1970},{"port":"Trabzon","year":1872,"value":1610},{"port":"Trabzon","year":1873,"value":2040},{"port":"Trabzon","year":1874,"value":2590},{"port":"Trabzon","year":1875,"value":1900},{"port":"Trabzon","year":1876,"value":1860},{"port":"Trabzon","year":1877,"value":1420},{"port":"Trabzon","year":1878,"value":1790},{"port":"Trabzon","year":1879,"value":2150},{"port":"Trabzon","year":1880,"value":1860},{"port":"Trabzon","year":1881,"value":1720},{"port":"Trabzon","year":1882,"value":2150},{"port":"Trabzon","year":1883,"value":2520},{"port":"Trabzon","year":1884,"value":2450},{"port":"Trabzon","year":1885,"value":2230},{"port":"Trabzon","year":1886,"value":2270},{"port":"Trabzon","year":1887,"value":1970},{"port":"Trabzon","year":1888,"value":1900},{"port":"Trabzon","year":1889,"value":2270},{"port":"Trabzon","year":1890,"value":2230},{"port":"Trabzon","year":1891,"value":2230},{"port":"Trabzon","year":1892,"value":1970},{"port":"Trabzon","year":1893,"value":1970},{"port":"Trabzon","year":1894,"value":2230},{"port":"Trabzon","year":1895,"value":2230},{"port":"Trabzon","year":1896,"value":1860},{"port":"Trabzon","year":1897,"value":2080},{"port":"Trabzon","year":1898,"value":2080},{"port":"Trabzon","year":1899,"value":1900},{"port":"Trabzon","year":1900,"value":2150},{"port":"Trabzon","year":1901,"value":2410},{"port":"Trabzon","year":1902,"value":2590},{"port":"Trabzon","year":1903,"value":2450},{"port":"Trabzon","year":1904,"value":2340},{"port":"Trabzon","year":1905,"value":2700},{"port":"Trabzon","year":1906,"value":3200},{"port":"Trabzon","year":1907,"value":2590},{"port":"Trabzon","year":1908,"value":1790},{"port":"Trabzon","year":1909,"value":2080},{"port":"Trabzon","year":1910,"value":2050},{"port":"Trabzon","year":1911,"value":1850},
{"port":"Samsun","year":1854,"value":250},{"port":"Samsun","year":1855,"value":400},{"port":"Samsun","year":1856,"value":250},{"port":"Samsun","year":1857,"value":800},{"port":"Samsun","year":1858,"value":500},{"port":"Samsun","year":1859,"value":650},{"port":"Samsun","year":1860,"value":1060},{"port":"Samsun","year":1861,"value":1020},{"port":"Samsun","year":1873,"value":1060},{"port":"Samsun","year":1874,"value":880},{"port":"Samsun","year":1875,"value":700},{"port":"Samsun","year":1876,"value":700},{"port":"Samsun","year":1877,"value":800},{"port":"Samsun","year":1878,"value":880},{"port":"Samsun","year":1879,"value":880},{"port":"Samsun","year":1880,"value":990},{"port":"Samsun","year":1881,"value":1130},{"port":"Samsun","year":1882,"value":1060},{"port":"Samsun","year":1883,"value":1240},{"port":"Samsun","year":1884,"value":1240},{"port":"Samsun","year":1885,"value":1310},{"port":"Samsun","year":1886,"value":1350},{"port":"Samsun","year":1887,"value":950},{"port":"Samsun","year":1888,"value":1170},{"port":"Samsun","year":1889,"value":1790},{"port":"Samsun","year":1890,"value":1900},{"port":"Samsun","year":1891,"value":1720},{"port":"Samsun","year":1892,"value":1500},{"port":"Samsun","year":1893,"value":1170},{"port":"Samsun","year":1894,"value":990},{"port":"Samsun","year":1895,"value":950},{"port":"Samsun","year":1896,"value":990},{"port":"Samsun","year":1897,"value":1310},{"port":"Samsun","year":1898,"value":1240},{"port":"Samsun","year":1899,"value":1060},{"port":"Samsun","year":1900,"value":1240},{"port":"Samsun","year":1901,"value":1350},{"port":"Samsun","year":1902,"value":1600},{"port":"Samsun","year":1903,"value":1860},{"port":"Samsun","year":1904,"value":1720},{"port":"Samsun","year":1905,"value":1400},{"port":"Samsun","year":1906,"value":1200},{"port":"Samsun","year":1907,"value":2150},{"port":"Samsun","year":1908,"value":2410},{"port":"Samsun","year":1909,"value":1600},{"port":"Samsun","year":1910,"value":2780},{"port":"Samsun","year":1911,"value":3140},{"port":"Samsun","year":1912,"value":2810},{"port":"Samsun","year":1913,"value":1500},
{"port":"Giresun","year":1856,"value":150},{"port":"Giresun","year":1857,"value":120},{"port":"Giresun","year":1858,"value":100},{"port":"Giresun","year":1859,"value":150},{"port":"Giresun","year":1860,"value":120},{"port":"Giresun","year":1861,"value":100},{"port":"Giresun","year":1862,"value":130},{"port":"Giresun","year":1863,"value":150},{"port":"Giresun","year":1864,"value":120},{"port":"Giresun","year":1865,"value":100},{"port":"Giresun","year":1866,"value":150},{"port":"Giresun","year":1867,"value":130},{"port":"Giresun","year":1868,"value":120},{"port":"Giresun","year":1869,"value":100},{"port":"Giresun","year":1870,"value":80},{"port":"Giresun","year":1871,"value":150},{"port":"Giresun","year":1872,"value":200},{"port":"Giresun","year":1873,"value":220},{"port":"Giresun","year":1874,"value":250},{"port":"Giresun","year":1875,"value":230},{"port":"Giresun","year":1876,"value":220},{"port":"Giresun","year":1877,"value":250},{"port":"Giresun","year":1878,"value":230},{"port":"Giresun","year":1879,"value":220},{"port":"Giresun","year":1880,"value":300},{"port":"Giresun","year":1881,"value":510},{"port":"Giresun","year":1882,"value":400},{"port":"Giresun","year":1883,"value":330},{"port":"Giresun","year":1884,"value":300},{"port":"Giresun","year":1885,"value":330},{"port":"Giresun","year":1886,"value":250},{"port":"Giresun","year":1887,"value":330},{"port":"Giresun","year":1888,"value":300},{"port":"Giresun","year":1889,"value":280},{"port":"Giresun","year":1890,"value":250},{"port":"Giresun","year":1891,"value":200},{"port":"Giresun","year":1892,"value":250},{"port":"Giresun","year":1893,"value":280},{"port":"Giresun","year":1894,"value":300},{"port":"Giresun","year":1895,"value":250},{"port":"Giresun","year":1896,"value":280},{"port":"Giresun","year":1897,"value":300},{"port":"Giresun","year":1898,"value":350},{"port":"Giresun","year":1899,"value":330},{"port":"Giresun","year":1900,"value":350},{"port":"Giresun","year":1901,"value":380},{"port":"Giresun","year":1902,"value":400},{"port":"Giresun","year":1903,"value":380},{"port":"Giresun","year":1904,"value":420},{"port":"Giresun","year":1905,"value":450},{"port":"Giresun","year":1906,"value":400},{"port":"Giresun","year":1907,"value":450},{"port":"Giresun","year":1908,"value":500},{"port":"Giresun","year":1909,"value":580},{"port":"Giresun","year":1910,"value":800},{"port":"Giresun","year":1911,"value":650},{"port":"Giresun","year":1912,"value":950},{"port":"Giresun","year":1913,"value":600}
]
},
"data": {"name": "main"},
"mark": {"type": "point", "filled": true, "shape": "circle", "size": 235, "opacity": 1},
"encoding": {
"x": {"field": "year", "type": "quantitative", "scale": {"domain": [1830, 1914], "nice": false, "zero": false},
"axis": {"values": [1830,1840,1850,1860,1870,1880,1890,1900,1910], "format": "d", "title": null, "grid": true, "gridColor": "#D9D9D9", "gridWidth": 1.3, "domain": false, "ticks": false, "labelFlush": false, "labelFont": "DejaVu Serif", "labelFontSize": 18.5, "labelColor": "#595959", "labelPadding": 21}},
"y": {"field": "value", "type": "quantitative", "scale": {"domain": [0, 16000], "nice": false},
"axis": {"values": [0,2000,4000,6000,8000,10000,12000,14000,16000], "format": "d", "title": null, "grid": true, "gridColor": "#D9D9D9", "gridWidth": 1.3, "domain": false, "ticks": false, "labelFlush": false, "labelFont": "DejaVu Serif", "labelFontSize": 18, "labelColor": "#595959", "labelPadding": 22}},
"color": {"field": "port", "type": "nominal",
"scale": {"domain": ["Batum","Berdyansk","Burgaz","Evpatorya","Feodosya","Galati","İbrail","Kerç","Köstence","Mariupol","Nikolayev","Novorossiysk","Odessa","Rostov","Sivastopol","Taganrog","Varna","Trabzon","Samsun","Giresun"],
"range": ["#4472C4","#ED7D31","#A5A5A5","#FFC000","#5B9BD5","#70AD47","#264478","#9E480E","#636363","#997300","#255E91","#43682B","#698ED0","#F1975A","#B7B7B7","#FFCD33","#7CAFDD","#8CC168","#335AA1","#D26012"]},
"legend": {"orient": "none", "legendX": -76, "legendY": 513, "direction": "horizontal", "columns": 7, "gridAlign": "all", "title": null, "symbolType": "circle", "symbolSize": 130, "symbolStrokeWidth": 0, "labelFont": "DejaVu Serif", "labelFontSize": 18.5, "labelColor": "#595959", "columnPadding": 15, "rowPadding": 17.5, "labelOffset": 8}}
},
"config": {"view": {"stroke": null}}
}
